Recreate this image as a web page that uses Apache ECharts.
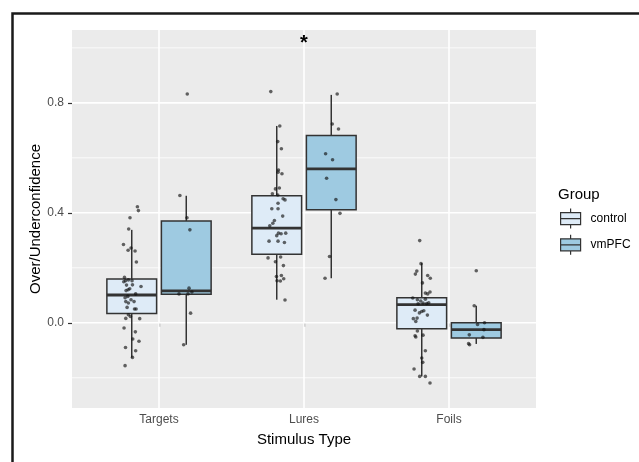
<!DOCTYPE html>
<html>
<head>
<meta charset="utf-8">
<title>Over/Underconfidence by Stimulus Type</title>
<script src="https://cdn.jsdelivr.net/npm/echarts@6.0.0/dist/echarts.min.js"></script>
<style>
  html, body { margin: 0; padding: 0; background: #fff; }
  #chart { width: 639px; height: 462px; }
</style>
</head>
<body>
<div id="chart"></div>
<script>
var categories = ['Targets', 'Lures', 'Foils']
var groups = ['control', 'vmPFC']
var yLabels = [0, 0.4, 0.8]
var yMinor = [-0.2, 0.2, 0.6, 1.0]

// box stats per category: [lower whisker, Q1, median, Q3, upper whisker]
var controlBox = [
  [-0.127, 0.034, 0.101, 0.159, 0.338],
  [0.084, 0.249, 0.344, 0.462, 0.716],
  [-0.195, -0.022, 0.066, 0.091, 0.217]
]
var vmpfcBox = [
  [-0.08, 0.104, 0.116, 0.37, 0.462],
  [0.162, 0.411, 0.56, 0.681, 0.829],
  [-0.077, -0.055, -0.025, 0.0, 0.062]
]

// jittered points: [jitter, value]
var controlTargets = [[0.039, 0.422], [0.046, 0.408], [-0.012, 0.382], [-0.021, 0.341], [-0.057, 0.285], [-0.025, 0.264], [-0.005, 0.272], [0.023, 0.261], [0.032, 0.221], [-0.05, 0.165], [-0.043, 0.153], [-0.023, 0.156], [0.002, 0.153], [-0.055, 0.149], [0.005, 0.138], [-0.036, 0.137], [0.064, 0.132], [-0.014, 0.124], [-0.025, 0.12], [-0.039, 0.117], [0.027, 0.105], [-0.027, 0.096], [-0.046, 0.091], [-0.005, 0.084], [-0.041, 0.077], [0.016, 0.077], [-0.023, 0.072], [-0.032, 0.056], [0.019, 0.05], [0.03, 0.05], [-0.023, 0.029], [-0.009, 0.023], [-0.041, 0.016], [0.055, 0.015], [-0.053, -0.019], [0.025, -0.033], [0.007, -0.059], [0.05, -0.067], [-0.043, -0.09], [0.027, -0.102], [0.005, -0.126], [-0.046, -0.156]]
var vmpfcTargets = [[0.007, 0.832], [-0.044, 0.463], [0.005, 0.382], [0.025, 0.338], [0.019, 0.126], [0.039, 0.112], [-0.05, 0.105], [0.012, 0.105], [0.03, 0.035], [-0.018, -0.08]]
var controlLures = [[-0.041, 0.841], [0.021, 0.716], [0.007, 0.659], [0.032, 0.633], [0.012, 0.556], [0.036, 0.542], [0.009, 0.548], [-0.009, 0.487], [0.018, 0.49], [-0.03, 0.469], [0.007, 0.465], [0.044, 0.451], [0.057, 0.447], [0.009, 0.435], [-0.034, 0.415], [0.009, 0.415], [0.041, 0.388], [-0.016, 0.372], [-0.027, 0.362], [-0.048, 0.353], [0.012, 0.326], [0.03, 0.324], [0.062, 0.326], [0, 0.317], [-0.053, 0.297], [0.009, 0.297], [0.053, 0.292], [-0.06, 0.236], [0.027, 0.239], [-0.009, 0.222], [0.046, 0.208], [-0.002, 0.168], [0.032, 0.172], [0.048, 0.16], [0.002, 0.153], [0.025, 0.152], [0.057, 0.083]]
var vmpfcLures = [[0.041, 0.832], [0.007, 0.723], [0.05, 0.705], [-0.039, 0.615], [0.009, 0.593], [-0.032, 0.526], [0.032, 0.448], [0.06, 0.398], [-0.012, 0.241], [-0.043, 0.162]]
var controlFoils = [[-0.014, 0.299], [-0.005, 0.215], [-0.034, 0.188], [-0.044, 0.177], [0.041, 0.172], [0.059, 0.162], [0.005, 0.145], [0.025, 0.108], [0.057, 0.112], [0.041, 0.105], [-0.062, 0.09], [-0.03, 0.084], [-0.007, 0.079], [0.025, 0.086], [-0.025, 0.069], [0.009, 0.072], [0.034, 0.07], [0.048, 0.073], [-0.046, 0.046], [-0.016, 0.036], [0, 0.041], [0.014, 0.044], [0.039, 0.028], [-0.032, 0.017], [-0.058, 0.015], [-0.041, 0.005], [-0.03, -0.03], [-0.046, -0.047], [-0.041, -0.052], [0.009, -0.045], [0.025, -0.102], [0, -0.128], [0.007, -0.144], [-0.053, -0.168], [-0.014, -0.195], [0.025, -0.195], [0.057, -0.219]]
var vmpfcFoils = [[0, 0.189], [-0.014, 0.062], [0.009, -0.006], [0.057, 0], [0.053, -0.025], [-0.048, -0.044], [0.046, -0.053], [-0.053, -0.076], [-0.046, -0.08]]

// significance mark over Lures
var sigMarks = [[2, 1.033, '*']]

var dodge = [-0.188, 0.188]
var boxWidth = 0.343
var fills = ['#deebf7', '#9ecae1']
var lineColor = '#333333'
var font = 'Liberation Sans, Arial, sans-serif'

function boxData (stats, g) {
  return stats.map(function (s, i) {
    return [i + 1 + dodge[g]].concat(s)
  })
}

function pointData (lists, g) {
  var out = []
  lists.forEach(function (list, i) {
    list.forEach(function (p) {
      out.push([i + 1 + dodge[g] + p[0], p[1]])
    })
  })
  return out
}

function renderBox (fill) {
  return function (params, api) {
    var x = api.value(0)
    var lo = api.coord([x, api.value(1)])
    var q1 = api.coord([x, api.value(2)])
    var med = api.coord([x, api.value(3)])
    var q3 = api.coord([x, api.value(4)])
    var hi = api.coord([x, api.value(5)])
    var half = api.size([boxWidth, 0])[0] / 2
    var cx = q1[0]
    var stroke = { stroke: lineColor, lineWidth: 1.5 }
    return {
      type: 'group',
      children: [
        { type: 'line', shape: { x1: cx, y1: q3[1], x2: cx, y2: hi[1] }, style: stroke },
        { type: 'line', shape: { x1: cx, y1: q1[1], x2: cx, y2: lo[1] }, style: stroke },
        {
          type: 'rect',
          shape: { x: cx - half, y: q3[1], width: half * 2, height: q1[1] - q3[1] },
          style: { fill: fill, stroke: lineColor, lineWidth: 1.5 }
        },
        {
          type: 'line',
          shape: { x1: cx - half, y1: med[1], x2: cx + half, y2: med[1] },
          style: { stroke: lineColor, lineWidth: 2.8 }
        }
      ]
    }
  }
}

// white panel grid: [x, y, line width]
var hGrid = yMinor.map(function (v) { return [1, v, 0.8] })
  .concat(yLabels.map(function (v) { return [1, v, 1.6] }))
var vGrid = categories.map(function (c, i) { return [i + 1, 0, 1.6] })

function renderGrid (horizontal) {
  return function (params, api) {
    var cs = params.coordSys
    var p = api.coord([api.value(0), api.value(1)])
    var shape = horizontal
      ? { x1: cs.x, y1: p[1], x2: cs.x + cs.width, y2: p[1] }
      : { x1: p[0], y1: cs.y, x2: p[0], y2: cs.y + cs.height }
    return {
      type: 'line',
      shape: shape,
      style: { stroke: '#ffffff', lineWidth: api.value(2) },
      silent: true
    }
  }
}

var chart = echarts.init(document.getElementById('chart'))
chart.setOption({
  animation: false,
  backgroundColor: '#ffffff',
  title: {
    text: 'Group',
    left: 558,
    top: 187,
    textStyle: { fontFamily: font, fontSize: 15, fontWeight: 'normal', color: '#000' },
    padding: 0
  },
  legend: {
    data: groups,
    orient: 'vertical',
    left: 560,
    top: 208,
    itemWidth: 20,
    itemHeight: 20,
    itemGap: 5,
    padding: 0,
    icon: 'path://M10,0L10,4M0,4L20,4L20,16L0,16ZM0,10L20,10M10,16L10,20',
    itemStyle: { borderColor: lineColor, borderWidth: 1.2 },
    textStyle: { fontFamily: font, fontSize: 12, color: '#000', padding: [0, 0, 0, 5] }
  },
  graphic: [{
    type: 'rect',
    left: 10,
    top: 11,
    shape: { width: 640, height: 470 },
    style: { fill: 'none', stroke: '#1a1a1a', lineWidth: 2.5 },
    silent: true
  }],
  grid: {
    left: 72,
    top: 30,
    width: 464,
    height: 378,
    show: true,
    backgroundColor: '#ebebeb',
    borderWidth: 0
  },
  xAxis: {
    type: 'value',
    min: 0.4,
    max: 3.6,
    name: 'Stimulus Type',
    nameLocation: 'middle',
    nameGap: 24,
    nameTextStyle: { fontFamily: font, fontSize: 15, color: '#000' },
    axisLine: { show: false },
    axisTick: { show: true, length: 4, customValues: [1, 2, 3], lineStyle: { color: lineColor, width: 1.2 } },
    axisLabel: {
      customValues: [1, 2, 3],
      margin: 6,
      fontFamily: font,
      fontSize: 12,
      color: '#4d4d4d',
      formatter: function (v) { return categories[Math.round(v) - 1] }
    },
    splitLine: { show: false }
  },
  yAxis: {
    type: 'value',
    min: -0.31,
    max: 1.065,
    name: 'Over/Underconfidence',
    nameLocation: 'middle',
    nameGap: 29,
    nameMoveOverlap: false,
    nameTextStyle: { fontFamily: font, fontSize: 15, color: '#000' },
    axisLine: { show: false },
    axisTick: { show: true, length: 4, customValues: yLabels, lineStyle: { color: lineColor, width: 1.2 } },
    axisLabel: {
      customValues: yLabels,
      margin: 8,
      fontFamily: font,
      fontSize: 12,
      color: '#4d4d4d',
      formatter: function (v) { return v.toFixed(1) }
    },
    splitLine: { show: false }
  },
  series: [
    {
      type: 'custom',
      name: 'hgrid',
      z: 1,
      silent: true,
      renderItem: renderGrid(true),
      data: hGrid
    },
    {
      type: 'custom',
      name: 'vgrid',
      z: 1,
      silent: true,
      renderItem: renderGrid(false),
      data: vGrid
    },
    {
      type: 'custom',
      name: 'control',
      z: 2,
      itemStyle: { color: fills[0], borderColor: lineColor },
      renderItem: renderBox(fills[0]),
      encode: { x: 0, y: [1, 2, 3, 4, 5] },
      data: boxData(controlBox, 0)
    },
    {
      type: 'custom',
      name: 'vmPFC',
      z: 2,
      itemStyle: { color: fills[1], borderColor: lineColor },
      renderItem: renderBox(fills[1]),
      encode: { x: 0, y: [1, 2, 3, 4, 5] },
      data: boxData(vmpfcBox, 1)
    },
    {
      type: 'scatter',
      name: 'control points',
      z: 3,
      symbolSize: 3.6,
      itemStyle: { color: 'rgba(15,15,15,0.8)' },
      data: pointData([controlTargets, controlLures, controlFoils], 0)
    },
    {
      type: 'scatter',
      name: 'vmPFC points',
      z: 3,
      symbolSize: 3.6,
      itemStyle: { color: 'rgba(15,15,15,0.8)' },
      data: pointData([vmpfcTargets, vmpfcLures, vmpfcFoils], 1)
    },
    {
      type: 'custom',
      name: 'sig',
      z: 4,
      renderItem: function (params, api) {
        var p = api.coord([api.value(0), api.value(1)])
        return {
          type: 'text',
          x: p[0],
          y: p[1] + 5,
          style: {
            text: sigMarks[params.dataIndex][2],
            fontFamily: font,
            fontSize: 20,
            fontWeight: 'bold',
            fill: '#000',
            align: 'center',
            verticalAlign: 'middle'
          }
        }
      },
      data: sigMarks
    }
  ]
})
</script>
</body>
</html>
